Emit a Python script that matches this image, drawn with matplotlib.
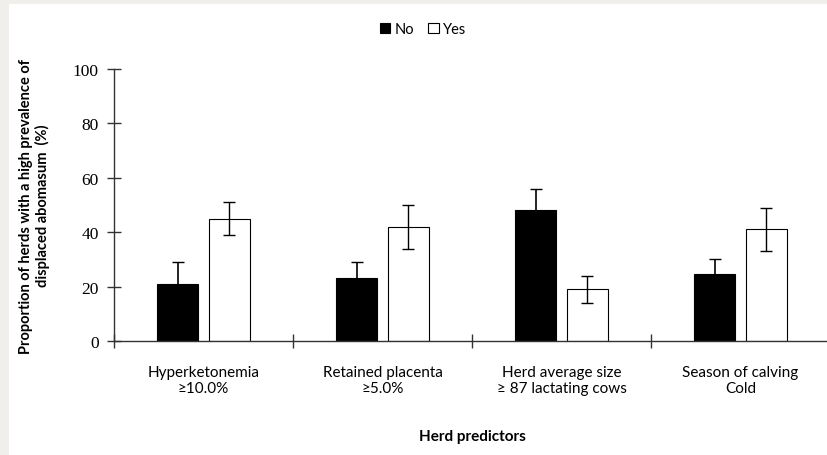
import numpy as np
import matplotlib
matplotlib.use("Agg")
import matplotlib.pyplot as plt
from matplotlib.patches import Rectangle

categories = ["Hyperketonemia\n\u226510.0%", "Retained placenta\n\u22655.0%",
              "Herd average size\n\u2265 87 lactating cows", "Season of calving\nCold"]
no_vals = [21, 23, 48, 24.5]
no_err = [8, 6, 8, 5.5]
yes_vals = [45, 42, 19, 41]
yes_err = [6, 8, 5, 8]

plt.rcParams['font.family'] = ['Lato', 'DejaVu Sans']

fig = plt.figure(figsize=(8.28, 4.56), dpi=100)
fig.patch.set_facecolor('#f0efeb')
fig.patches.append(Rectangle((9 / 828, 0), 1, (456 - 5) / 456, transform=fig.transFigure,
                             facecolor='white', edgecolor='none', zorder=-10))

ax = fig.add_axes([114 / 828, 114 / 456, (830 - 114) / 828, 272 / 456])
ax.set_facecolor('none')

x = np.arange(len(categories))
w = 0.23
off = 0.143
ax.bar(x - off, no_vals, w, color='black', edgecolor='black', linewidth=0.8, label='No',
       yerr=no_err, error_kw=dict(ecolor='black', elinewidth=1.2, capsize=4, capthick=1))
ax.bar(x + off, yes_vals, w, color='white', edgecolor='black', linewidth=0.8, label='Yes',
       yerr=yes_err, error_kw=dict(ecolor='black', elinewidth=1, capsize=4, capthick=1))

ax.set_xlim(-0.5, 3.5)
ax.set_ylim(0, 100)
ax.set_yticks([0, 20, 40, 60, 80, 100])
ax.set_yticklabels(['0', '20', '40', '60', '80', '100'], family='Liberation Serif', fontsize=12.5)
ax.set_xticks([-0.5, 0.5, 1.5, 2.5])
ax.set_xticklabels([])
ax.tick_params(axis='both', direction='inout', length=10, width=1, color='#333333')
ax.tick_params(axis='y', pad=6)
for i, c in enumerate(categories):
    ax.text(x[i], -9, c, ha='center', va='top', fontsize=11, linespacing=1.15,
            transform=ax.transData)

for s in ['top', 'right']:
    ax.spines[s].set_visible(False)
for s in ['left', 'bottom']:
    ax.spines[s].set_color('#333333')
    ax.spines[s].set_linewidth(1)

ax.set_ylabel("Proportion of herds with a high prevalence of\ndisplaced abomasum  (%)",
              fontsize=10.5, fontweight='bold', labelpad=16)
fig.text(472 / 828, 1 - 437 / 456, "Herd predictors", ha='center', va='center',
         fontsize=11, fontweight='bold')

ax.legend(loc='center', bbox_to_anchor=(423 / 828, 1 - 30 / 456), bbox_transform=fig.transFigure,
          ncol=2, frameon=False, fontsize=10.5, handlelength=0.7, handleheight=0.7,
          handletextpad=0.3, columnspacing=1.0)

fig.savefig("out.png", dpi=100, facecolor=fig.get_facecolor())
